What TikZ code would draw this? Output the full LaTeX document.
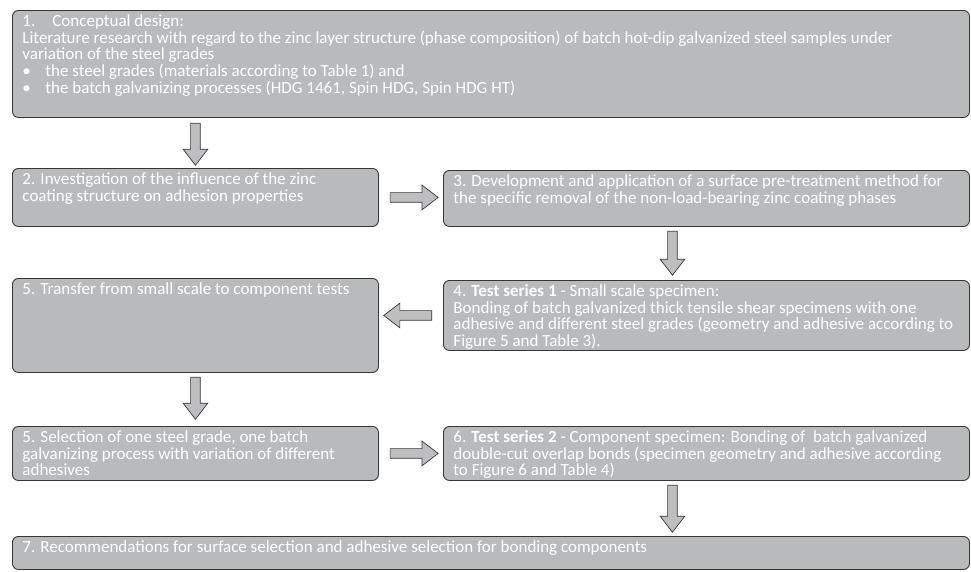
\documentclass[tikz,border=0pt]{standalone}
\usepackage{fontspec}
\setmainfont{Carlito}
\usepackage{tikz}
\usetikzlibrary{shapes,arrows,positioning,calc}

\definecolor{boxgray}{RGB}{185,186,188}
\definecolor{linegray}{RGB}{55,55,55}
\definecolor{arrowgray}{RGB}{190,190,192}

% text block of fixed size, set from the top
\newcommand{\stagetext}[3]{\parbox[t][#2][t]{#1}{\raggedright #3}}

\begin{document}
\begin{tikzpicture}[
    x=1pt, y=-1pt,
    stage/.style={rectangle, rounded corners=6pt, draw=linegray, fill=boxgray, line width=0.9pt,
        text=white, inner xsep=10pt, inner ysep=4pt, anchor=north west,
        font=\fontsize{17}{16.8}\selectfont},
    blockarrow/.style={single arrow, draw=linegray, fill=arrowgray, line width=0.7pt,
        inner xsep=0pt, inner ysep=4.5pt, single arrow head extend=7.5pt,
        single arrow tip angle=75, minimum height=#1},
    blockarrow/.default=42pt
]
\useasboundingbox (0,0) rectangle (971,571);

% Stages
\node[stage] (concept) at (12,10) {\stagetext{937pt}{99pt}{%
    \makebox[30pt][l]{1.}Conceptual design:\\
    Literature research with regard to the zinc layer structure (phase composition) of batch hot-dip galvanized steel samples under\\
    variation of the steel grades\\
    \makebox[23pt][l]{•}the steel grades (materials according to Table 1) and\\
    \makebox[23pt][l]{•}the batch galvanizing processes (HDG 1461, Spin HDG, Spin HDG HT)}};
\node[stage] (influence) at (12,168) {\stagetext{346pt}{50pt}{%
    2. Investigation of the influence of the zinc\\
    coating structure on adhesion properties}};
\node[stage] (pretreat) at (443,170) {\stagetext{506pt}{48pt}{%
    3. Development and application of a surface pre-treatment method for\\
    the specific removal of the non-load-bearing zinc coating phases}};
\node[stage] (transfer) at (12,278) {\stagetext{346pt}{86pt}{%
    5. Transfer from small scale to component tests}};
\node[stage] (series1) at (443,280) {\stagetext{506pt}{62pt}{%
    4. \textbf{Test series 1} - Small scale specimen:\\
    Bonding of batch galvanized thick tensile shear specimens with one\\
    adhesive and different steel grades (geometry and adhesive according to\\
    Figure 5 and Table 3).}};
\node[stage] (selection) at (12,426) {\stagetext{346pt}{46pt}{%
    5. Selection of one steel grade, one batch\\
    galvanizing process with variation of different\\
    adhesives}};
\node[stage] (series2) at (443,426) {\stagetext{506pt}{46pt}{%
    6. \textbf{Test series 2} - Component specimen: Bonding of \ batch galvanized\\
    double-cut overlap bonds (specimen geometry and adhesive according\\
    to Figure 6 and Table 4)}};
\node[stage] (recommend) at (12,536) {\stagetext{937pt}{25pt}{%
    7. Recommendations for surface selection and adhesive selection for bonding components}};

% Block arrows between the stages
\node[blockarrow, rotate=-90, anchor=tail] (a1) at ($(influence.north |- concept.south)+(0,5)$) {};
\node[blockarrow=48pt] (a2) at ($(influence.east)!0.5!(pretreat.west |- influence.east)$) {};
\node[blockarrow=44pt, rotate=-90, anchor=tail] (a3) at ($(pretreat.south)+(-34,4)$) {};
\node[blockarrow=48pt, rotate=180] (a4) at ($(transfer.east |- series1.west)!0.5!(series1.west)$) {};
\node[blockarrow, rotate=-90, anchor=tail] (a5) at ($(transfer.south)+(0,4)$) {};
\node[blockarrow=48pt] (a6) at ($(selection.east)!0.5!(series2.west |- selection.east)$) {};
\node[blockarrow=47pt, rotate=-90, anchor=tail] (a7) at ($(series2.south)+(-34,4)$) {};

\end{tikzpicture}
\end{document}
